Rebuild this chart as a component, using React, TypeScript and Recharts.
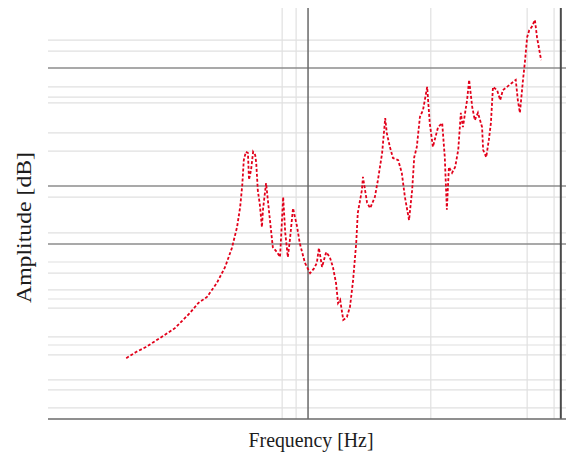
import { LineChart, Line, XAxis, YAxis, ReferenceLine } from 'recharts'

// frequency (arbitrary 0..100 scale, no tick labels in the original)
const freq = [
  15.1, 17.0, 18.9, 21.6, 24.5, 27.4, 29.0, 30.7, 32.6, 34.2, 35.5, 36.5, 37.1, 37.5, 37.8, 38.2,
  38.6, 38.8, 39.2, 39.6, 40.0, 40.2, 40.5, 40.9, 41.3, 41.5, 42.1, 42.5, 42.9, 43.4, 44.2, 44.8,
  45.4, 45.8, 46.3, 46.7, 47.3, 48.1, 48.6, 49.6, 50.6, 51.4, 51.9, 52.3, 52.9, 53.7, 54.4, 55.0,
  55.6, 56.0, 56.4, 57.0, 57.7, 58.3, 58.9, 59.5, 59.8, 60.6, 60.8, 61.6, 62.2, 63.1, 63.7, 64.5,
  65.1, 65.4, 66.0, 66.6, 67.6, 68.3, 68.9, 69.7, 70.3, 70.7, 71.2, 71.8, 72.4, 73.2, 73.7, 74.3,
  75.3, 76.1, 76.6, 77.0, 77.4, 78.0, 78.6, 79.2, 79.7, 80.1, 80.9, 81.3, 81.9, 82.4, 83.0, 83.8,
  84.0, 84.6, 85.1, 85.5, 85.9, 86.7, 87.3, 87.8, 88.6, 89.6, 90.3, 90.7, 91.1, 91.7, 92.1, 92.5,
  92.9, 93.4, 94.0, 94.4, 95.2,
]

// amplitude (arbitrary 0..100 scale)
const amplitude = [
  14.8, 16.3, 17.5, 19.7, 22.1, 25.8, 28.2, 29.7, 33.1, 37.0, 41.6, 46.7, 51.6, 56.9, 63.0, 65.0,
  64.7, 58.2, 60.6, 65.0, 64.2, 62.3, 55.7, 52.1, 46.7, 50.9, 57.4, 52.6, 47.7, 41.8, 40.6, 39.4,
  54.0, 45.3, 39.4, 43.6, 51.3, 46.7, 42.8, 38.0, 35.5, 36.7, 38.0, 41.6, 37.0, 40.6, 39.4, 37.0,
  33.1, 28.2, 29.0, 24.1, 24.8, 27.3, 33.8, 42.8, 50.1, 55.7, 58.9, 52.6, 51.3, 54.0, 58.2, 64.7,
  73.2, 69.6, 66.2, 63.5, 63.0, 59.9, 54.0, 48.4, 55.7, 63.7, 66.2, 73.5, 75.2, 80.8, 72.0, 66.2,
  71.0, 72.0, 63.7, 50.9, 61.3, 59.9, 61.3, 65.5, 74.5, 71.0, 77.6, 82.5, 75.9, 72.7, 74.5, 71.0,
  65.5, 63.7, 67.9, 72.0, 80.8, 80.0, 77.6, 80.0, 80.8, 81.8, 82.5, 77.6, 74.5, 82.5, 87.3, 92.9,
  94.6, 95.4, 97.1, 92.9, 87.3,
]

// gridline positions
const minorFreq = [45.2, 47.9, 73.9, 92.5, 97.7]
const majorFreq = [50.2]
const borderFreq = 99.0
const minorAmp = [
  2.7, 7.1, 9.5, 15.6, 18.0, 20.0, 27.0, 29.2, 31.4, 35.5, 38.2, 45.3, 54.0, 65.2, 69.6, 76.9,
  78.3, 80.8, 89.5, 92.2,
]
const majorAmp = [42.6, 56.7, 85.4]

const data = freq.map((f, i) => ({ freq: f, amp: amplitude[i] }))

const labelFont = '"Liberation Serif", "DejaVu Serif", serif'

const XLabel = ({ viewBox }: any) => {
  const vb = viewBox || { x: 48, y: 419, width: 518, height: 37 }
  const cx = vb.x + vb.width / 2 + 4
  return (
    <text
      x={cx}
      y={vb.y + 28}
      textAnchor="middle"
      fill="#1c1c1c"
      fontSize={22}
      fontFamily={labelFont}
      textLength={125}
      lengthAdjust="spacingAndGlyphs"
    >
      Frequency [Hz]
    </text>
  )
}

const YLabel = ({ viewBox }: any) => {
  const vb = viewBox || { x: 0, y: 8, width: 48, height: 411 }
  const x = vb.x + 31
  const y = vb.y + vb.height / 2 + 14
  return (
    <text
      x={x}
      y={y}
      transform={`rotate(-90 ${x} ${y})`}
      textAnchor="middle"
      fill="#1c1c1c"
      fontSize={20}
      fontFamily={labelFont}
      textLength={151}
      lengthAdjust="spacingAndGlyphs"
    >
      Amplitude [dB]
    </text>
  )
}

export default function App() {
  return (
    <div style={{ position: 'absolute', left: 0, top: 0, background: '#fff' }}>
      <LineChart width={571} height={456} data={data} margin={{ top: 8, right: 5, left: 0, bottom: 0 }}>
        <XAxis
          dataKey="freq"
          type="number"
          domain={[0, 100]}
          tick={false}
          tickLine={false}
          axisLine={{ stroke: '#6a6a6a', strokeWidth: 1.5 }}
          height={37}
          label={<XLabel />}
        />
        <YAxis
          type="number"
          domain={[0, 100]}
          tick={false}
          tickLine={false}
          axisLine={false}
          width={48}
          label={<YLabel />}
        />

        {minorAmp.map((v) => (
          <ReferenceLine key={`ya${v}`} y={v} stroke="#e0e0e0" strokeWidth={1.2} zIndex={-60} />
        ))}
        {minorFreq.map((v) => (
          <ReferenceLine key={`xa${v}`} x={v} stroke="#e0e0e0" strokeWidth={1.2} zIndex={-60} />
        ))}
        {majorAmp.map((v) => (
          <ReferenceLine key={`yb${v}`} y={v} stroke="#8c8c8c" strokeWidth={1.5} zIndex={-50} />
        ))}
        {majorFreq.map((v) => (
          <ReferenceLine key={`xb${v}`} x={v} stroke="#686868" strokeWidth={1.5} zIndex={-50} />
        ))}
        <ReferenceLine x={borderFreq} stroke="#4a4a4a" strokeWidth={2} zIndex={-50} />

        <Line
          type="linear"
          dataKey="amp"
          stroke="#e2001a"
          strokeWidth={1.8}
          strokeDasharray="3 2"
          dot={false}
          isAnimationActive={false}
        />
      </LineChart>
    </div>
  )
}
